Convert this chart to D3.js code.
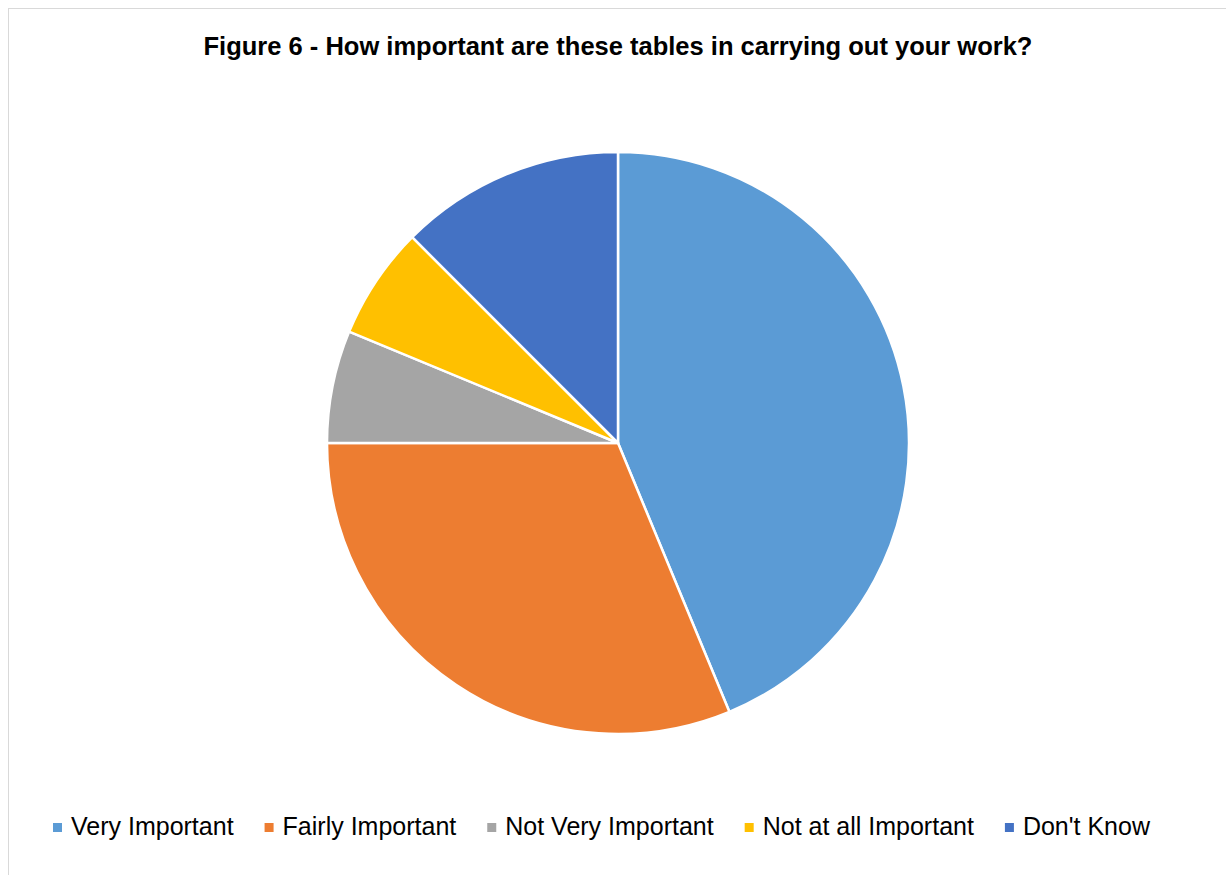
<!DOCTYPE html>
<html><head><meta charset="utf-8">
<script src="https://cdn.jsdelivr.net/npm/d3@7"></script>
<style>body{margin:0;background:#fff}svg{display:block}</style>
</head><body>
<script>
const categories = ["Very Important","Fairly Important","Not Very Important","Not at all Important","Don't Know"];
const values = [7,5,1,1,2];
const colors = ["#5B9BD5","#ED7D31","#A5A5A5","#FFC000","#4472C4"];
const title = "Figure 6 - How important are these tables in carrying out your work?";

const W=1226,H=875;
const svg=d3.select("body").append("svg").attr("width",W).attr("height",H);
svg.append("rect").attr("x",8.5).attr("y",8.5).attr("width",W+10).attr("height",H+10)
  .attr("fill","#fff").attr("stroke","#d9d9d9").attr("stroke-width",1);

svg.append("text").attr("x",618).attr("y",55).attr("text-anchor","middle")
  .attr("font-family","Liberation Sans, Arial, sans-serif").attr("font-weight","bold")
  .attr("font-size",25.5).attr("fill","#000").text(title);

const cx=618,cy=443,r=291;
const pie=d3.pie().sort(null).value(d=>d)(values);
const arc=d3.arc().innerRadius(0).outerRadius(r);
const g=svg.append("g").attr("transform",`translate(${cx},${cy})`);
g.selectAll("path").data(pie).join("path").attr("d",arc)
  .attr("fill",(d,i)=>colors[i]).attr("stroke","#fff").attr("stroke-width",2.5).attr("stroke-linejoin","round");

const lg=svg.append("g");
const fs=25;
let x=0;const items=[];
categories.forEach((c,i)=>{
  const t=lg.append("text").attr("y",835).attr("font-family","Liberation Sans, Arial, sans-serif")
    .attr("font-size",fs).attr("fill","#000").text(c);
  const w=t.node().getComputedTextLength();
  items.push({t,x,w,i});
  x+=9+9+w+31;
});
const x0=53;
items.forEach(it=>{
  lg.append("rect").attr("x",x0+it.x).attr("y",823).attr("width",9).attr("height",9).attr("fill",colors[it.i]);
  it.t.attr("x",x0+it.x+18);
});
</script>
</body></html>
